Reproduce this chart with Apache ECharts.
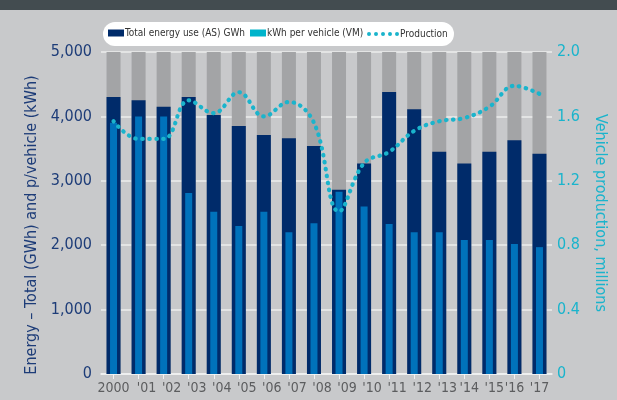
<!DOCTYPE html>
<html>
<head>
<meta charset="utf-8">
<script src="https://cdn.jsdelivr.net/npm/echarts@6/dist/echarts.min.js"></script>
<style>
  html, body { margin: 0; padding: 0; background: #c8c9cb; }
  #chart-panel { width: 617px; height: 400px; }
</style>
</head>
<body>
<div id="chart-panel"></div>
<script>
// data
var years = ["2000", "'01", "'02", "'03", "'04", "'05", "'06", "'07", "'08", "'09",
             "'10", "'11", "'12", "'13", "'14", "'15", "'16", "'17"];
// total energy use (AS), GWh
var totalEnergy = [4300, 4250, 4150, 4300, 4020, 3850, 3710, 3660, 3540, 2860,
                   3270, 4380, 4110, 3450, 3270, 3450, 3630, 3420];
// kWh per vehicle (VM)
var kwhPerVehicle = [3900, 4000, 4000, 2810, 2520, 2300, 2520, 2200, 2340, 2830,
                     2600, 2330, 2200, 2200, 2080, 2080, 2020, 1970];
// vehicle production, millions
var production = [1.57, 1.46, 1.46, 1.70, 1.62, 1.75, 1.60, 1.69, 1.56, 1.01,
                  1.31, 1.38, 1.51, 1.57, 1.59, 1.66, 1.79, 1.74];

var NAVY = "#002b6a";
var BLUE = "#0072bb";
var CYAN = "#1ab4cc";
var FONT = "'DejaVu Sans Condensed', 'DejaVu Sans', sans-serif";

// five dots for the Production legend key
var dots = "path://";
for (var i = 0; i < 5; i++) {
  dots += "M" + (i * 7) + ",2a2,2 0 1,0 4,0a2,2 0 1,0 -4,0z";
}

var chartPanel = echarts.init(document.getElementById("chart-panel"));
var option = {
  backgroundColor: "#c8c9cb",
  animation: false,
  textStyle: { fontFamily: FONT },
  graphic: [
    { type: "rect", shape: { x: 0, y: 0, width: 617, height: 10 }, style: { fill: "#434c50" }, silent: true },
    { type: "rect", shape: { x: 103, y: 22, width: 351, height: 24, r: 12 }, style: { fill: "#ffffff" }, silent: true }
  ],
  legend: [
    {
      left: 108, top: 28, padding: 0, itemGap: 5,
      itemWidth: 16, itemHeight: 7,
      textStyle: { fontFamily: FONT, fontSize: 10, color: "#333333", padding: [0, 0, 0, -4] },
      data: [
        { name: "Total energy use (AS) GWh", icon: "rect", itemStyle: { color: NAVY } },
        { name: "kWh per vehicle (VM)", icon: "rect", itemStyle: { color: "#00b4cb" } }
      ]
    },
    {
      left: 367, top: 29, padding: 0,
      itemWidth: 32, itemHeight: 4,
      textStyle: { fontFamily: FONT, fontSize: 10, color: "#333333", padding: [0, 0, 0, -4] },
      data: [{ name: "Production", icon: dots, itemStyle: { color: CYAN } }]
    }
  ],
  grid: { left: 101, right: 65, top: 52, bottom: 26 },
  xAxis: [
    {
      type: "category",
      data: years,
      axisLine: { lineStyle: { color: "#f2f2f2", width: 1.5 } },
      axisTick: { show: true, alignWithLabel: true, length: 5, lineStyle: { color: "#f2f2f2" } },
      axisLabel: {
        color: "#5c5d5f", fontSize: 14, margin: 7, fontFamily: FONT, interval: 0,
        // the year labels sit a little right of the bars, except the first and the last two
        formatter: function (v, idx) {
          if (idx === 0 || idx >= 16) return "{n|" + v + "}";
          if (idx >= 14) return "{s|" + v + "}";
          return "{r|" + v + "}";
        },
        rich: {
          n: { fontSize: 14, color: "#5c5d5f", fontFamily: FONT },
          s: { fontSize: 14, color: "#5c5d5f", fontFamily: FONT, padding: [0, 0, 0, 10] },
          r: { fontSize: 14, color: "#5c5d5f", fontFamily: FONT, padding: [0, 0, 0, 16] }
        }
      }
    },
    {
      type: "category",
      data: years,
      show: false
    }
  ],
  yAxis: [
    {
      type: "value",
      min: 0, max: 5000, interval: 1000,
      name: "Energy – Total (GWh) and p/vehicle (kWh)",
      nameLocation: "middle",
      nameGap: 60,
      nameTextStyle: { color: "#1d3c78", fontSize: 16, fontFamily: FONT, padding: [0, 24, 0, 0] },
      axisLine: { show: false },
      axisTick: { show: false },
      axisLabel: {
        color: "#1d3c78", fontSize: 16, margin: 9, fontFamily: FONT,
        formatter: function (v) { return v.toLocaleString("en-US"); }
      },
      splitLine: { lineStyle: { color: "#ececec", width: 1.5 } }
    },
    {
      type: "value",
      min: 0, max: 2, interval: 0.4,
      name: "Vehicle production, millions",
      nameLocation: "middle",
      nameRotate: -90,
      nameGap: 40,
      nameTextStyle: { color: CYAN, fontSize: 16, fontFamily: FONT },
      axisLine: { show: false },
      axisTick: { show: false },
      axisLabel: {
        color: CYAN, fontSize: 16, margin: 5, fontFamily: FONT,
        formatter: function (v) { return v === 0 ? "0" : v.toFixed(1); }
      },
      splitLine: { show: false }
    }
  ],
  series: [
    {
      name: "Total energy use (AS) GWh",
      type: "bar",
      xAxisIndex: 0,
      yAxisIndex: 0,
      barWidth: 14,
      data: totalEnergy,
      itemStyle: { color: NAVY },
      showBackground: true,
      backgroundStyle: { color: "#a3a4a6" }
    },
    {
      name: "kWh per vehicle (VM)",
      type: "bar",
      xAxisIndex: 1,
      yAxisIndex: 0,
      barWidth: 7,
      z: 3,
      data: kwhPerVehicle,
      itemStyle: { color: BLUE }
    },
    {
      name: "Production",
      type: "line",
      xAxisIndex: 0,
      yAxisIndex: 1,
      z: 5,
      smooth: 0.4,
      symbol: "none",
      data: production,
      itemStyle: { color: CYAN },
      lineStyle: { color: CYAN, width: 4.2, type: [0.5, 6.5], cap: "round" }
    }
  ]
};
chartPanel.setOption(option);
</script>
</body>
</html>
